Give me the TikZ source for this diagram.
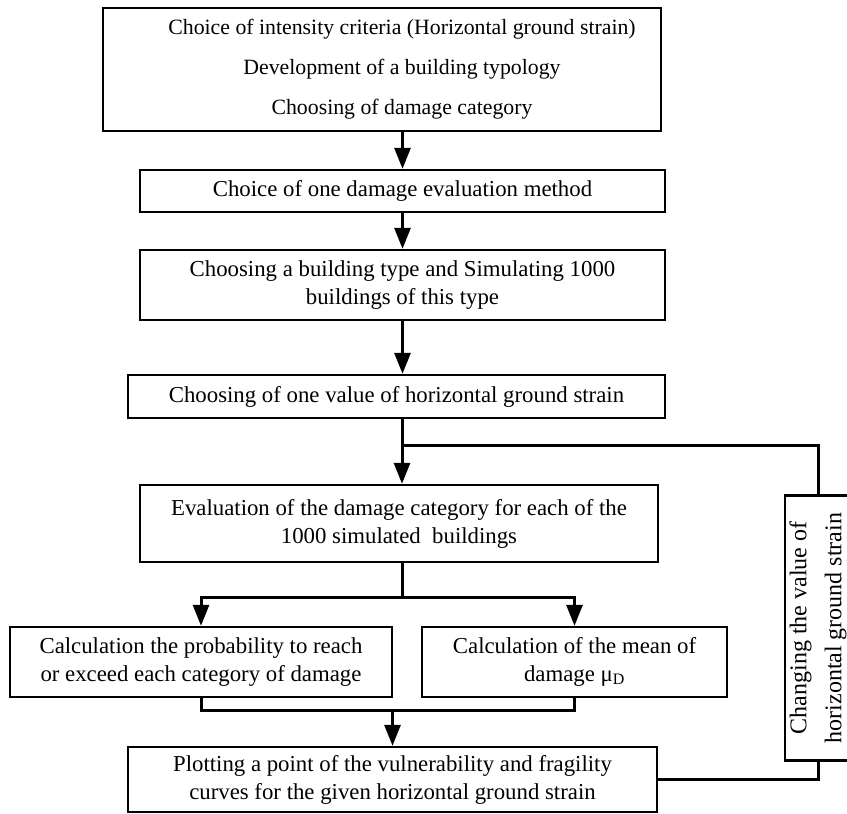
\documentclass[tikz,border=0pt]{standalone}
\usepackage{fontspec}
\setmainfont{Liberation Serif}
\usepackage{tikz}
\usetikzlibrary{arrows.meta,calc}

\tikzset{
  box/.style={draw, line width=2.4pt, align=center, inner sep=0pt,
    font=\fontsize{22.8}{28}\selectfont},
  link/.style={line width=3pt},
  flow/.style={line width=3pt, -{Triangle[width=16pt,length=21pt]}}
}

\begin{document}
\begin{tikzpicture}[x=1pt,y=-1pt]
\useasboundingbox (0,0) rectangle (847,814);

% boxes
\node[box, minimum width=558pt, minimum height=123pt] (crit) at (382,69.5) {};
\node[align=center, font=\fontsize{21.8}{28}\selectfont] (crittext)
  at ([xshift=20pt]crit.center)
  {Choice of intensity criteria (Horizontal ground strain)\\[12pt]
   Development of a building typology\\[12pt]
   Choosing of damage category};
\node[box, minimum width=525pt, minimum height=42pt] (method) at (402.5,191)
  {Choice of one damage evaluation method};
\node[box, minimum width=525pt, minimum height=70pt] (btype) at (402.5,285)
  {Choosing a building type and Simulating 1000\\buildings of this type};
\node[box, minimum width=537pt, minimum height=43pt] (strain) at (396.5,396.5)
  {Choosing of one value of horizontal ground strain};
\node[box, minimum width=518pt, minimum height=77pt] (evalu) at (399,523.5)
  {Evaluation of the damage category for each of the\\1000 simulated\ \ buildings};
\node[box, minimum width=382pt, minimum height=70pt] (prob) at (201,662)
  {Calculation the probability to reach\\or exceed each category of damage};
\node[box, minimum width=305pt, minimum height=70pt] (mean) at (574.5,662)
  {Calculation of the mean of\\damage μ\textsubscript{D}};
\node[box, minimum width=529pt, minimum height=65pt] (plot) at (392.5,779.5)
  {Plotting a point of the vulnerability and fragility\\curves for the given horizontal ground strain};
\node[box, rotate=90, minimum width=265pt, minimum height=66pt,
  font=\fontsize{24}{35}\selectfont] (change) at (818,628)
  {Changing the value of\\horizontal ground strain};

% junctions
\coordinate (split) at (402,445);
\coordinate (fork) at (402,597);
\coordinate (join) at (392.5,710);

% connectors
\draw[flow] (crit.south -| method.north) -- (method.north);
\draw[flow] (method.south) -- (btype.north);
\draw[flow] (btype.south) -- (btype.south |- strain.north);
\draw[link] (strain.south -| split) -- (split);
\draw[flow] (split) -- (split |- evalu.north);
\draw[link] (split) -| (change.east);
\draw[link] (evalu.south -| fork) -- (fork);
\draw[flow] (fork) -| (prob.north);
\draw[flow] (fork) -| (mean.north);
\draw[link] (prob.south) |- (join) -| (mean.south);
\draw[flow] (join) -- (plot.north);
\draw[link] (plot.east) -- (change.east |- plot.east) -- (change.west);
\end{tikzpicture}
\end{document}
